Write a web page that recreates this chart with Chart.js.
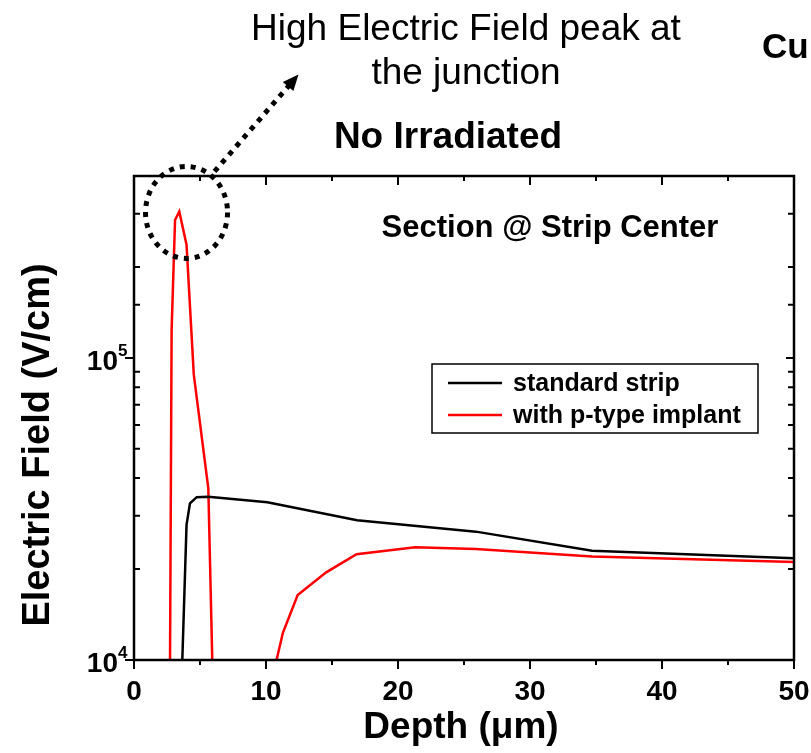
<!DOCTYPE html>
<html>
<head>
<meta charset="utf-8">
<script src="https://cdn.jsdelivr.net/npm/chart.js@4/dist/chart.umd.min.js"></script>
<style>
  html, body { margin: 0; padding: 0; background: #fff; }
  #wrap { width: 811px; height: 753px; }
</style>
</head>
<body>
<div id="wrap"><canvas id="c"></canvas></div>
<script>
// values (depth in um, field in V/cm)
const depthStd = [3.66, 3.98, 4.24, 4.75, 5.63, 10.1, 16.9, 25.9, 34.7, 50];
const fieldStd = [1e4, 2.8e4, 3.3e4, 3.46e4, 3.47e4, 3.33e4, 2.9e4, 2.66e4, 2.3e4, 2.17e4];

// p-type implant curve has a gap between ~6 and ~11 um (field below 1e4)
const depthImp = [2.73, 2.85, 3.11, 3.43, 3.98, 4.53, 5.63, 5.93, 8.0, 10.8, 11.28, 12.4, 14.56, 16.86, 21.3, 25.9, 34.7, 50];
const fieldImp = [1e4, 1.24e5, 2.86e5, 3.05e5, 2.37e5, 8.8e4, 3.7e4, 1e4, null, 1e4, 1.23e4, 1.64e4, 1.95e4, 2.24e4, 2.36e4, 2.33e4, 2.2e4, 2.11e4];

const seriesLabels = ['standard strip', 'with p-type implant'];
const seriesColors = ['#000000', '#ff0000'];

const xMin = 0, xMax = 50, xStep = 5;
const yMin = 1e4, yMax = 4e5;

// where the dotted circle sits (data coords)
const peakMark = { x: 3.98, y: 3.03e5 };

const toPts = (xs, ys) => xs.map((x, i) => ({ x: x, y: ys[i] }));

function txt(ctx, s, x, y, font, align) {
    ctx.save();
    ctx.font = font;
    ctx.textAlign = align || 'left';
    ctx.textBaseline = 'alphabetic';
    ctx.fillStyle = '#000';
    ctx.fillText(s, x, y);
    ctx.restore();
}

const FONT = '"Liberation Sans", Arial, sans-serif';

const decorations = {
    id: 'decorations',
    afterDraw(chart) {
        const ctx = chart.ctx;
        const a = chart.chartArea;
        const xs = chart.scales.x;
        const ys = chart.scales.y;

        ctx.save();
        ctx.strokeStyle = '#000';
        ctx.lineWidth = 2.5;
        ctx.strokeRect(a.left, a.top, a.right - a.left, a.bottom - a.top);

        // x ticks: bottom outward, top inward
        ctx.lineWidth = 2;
        xs.ticks.forEach(t => {
            const px = xs.getPixelForValue(t.value);
            const major = t.value % 10 === 0;
            const len = major ? 9 : 5;
            ctx.beginPath();
            ctx.moveTo(px, a.bottom); ctx.lineTo(px, a.bottom + len);
            ctx.moveTo(px, a.top); ctx.lineTo(px, a.top + len);
            ctx.stroke();
            if (major) {
                txt(ctx, String(t.value), px, 700, 'bold 28px ' + FONT, 'center');
            }
        });

        // y ticks (log)
        ys.ticks.forEach(t => {
            const py = ys.getPixelForValue(t.value);
            if (py < a.top + 1) return;
            const lg = Math.log10(t.value);
            const major = Math.abs(lg - Math.round(lg)) < 1e-6;
            ctx.beginPath();
            if (major) {
                ctx.moveTo(a.left - 9, py); ctx.lineTo(a.left, py);
                ctx.moveTo(a.right, py); ctx.lineTo(a.right - 8, py);
            } else {
                ctx.moveTo(a.left, py); ctx.lineTo(a.left + 6, py);
                ctx.moveTo(a.right, py); ctx.lineTo(a.right - 6, py);
            }
            ctx.stroke();
            if (major) {
                txt(ctx, '10', a.left - 16, py + 12, 'bold 28px ' + FONT, 'right');
                txt(ctx, String(Math.round(lg)), a.left - 16, py - 2, 'bold 17px ' + FONT, 'left');
            }
        });

        // axis titles
        txt(ctx, 'Depth (\u03bcm)', (a.left + a.right) / 2 - 3, 738, 'bold 37px ' + FONT, 'center');
        ctx.save();
        ctx.translate(49, 445);
        ctx.rotate(-Math.PI / 2);
        ctx.font = 'bold 38px ' + FONT;
        ctx.textAlign = 'center';
        ctx.fillStyle = '#000';
        ctx.fillText('Electric Field (V/cm)', 0, 0);
        ctx.restore();

        // titles / notes
        txt(ctx, 'High Electric Field peak at', 466, 40, '37px ' + FONT, 'center');
        txt(ctx, 'the junction', 466, 84, '37px ' + FONT, 'center');
        txt(ctx, 'No Irradiated', 448, 148, 'bold 37px ' + FONT, 'center');
        txt(ctx, 'Cu', 762, 58, 'bold 35px ' + FONT, 'left');
        txt(ctx, 'Section @ Strip Center', 550, 237, 'bold 31px ' + FONT, 'center');

        // legend
        const lx = 432, ly = 364;
        ctx.lineWidth = 1.5;
        ctx.strokeRect(lx, ly, 326, 69);
        chart.data.datasets.forEach((ds, i) => {
            const yy = ly + 19 + i * 32;
            ctx.strokeStyle = ds.borderColor;
            ctx.lineWidth = 2.5;
            ctx.beginPath();
            ctx.moveTo(lx + 16, yy); ctx.lineTo(lx + 70, yy);
            ctx.stroke();
            txt(ctx, ds.label, lx + 81, yy + 8, 'bold 25px ' + FONT, 'left');
        });

        // dotted circle + arrow around the peak
        const cx = xs.getPixelForValue(peakMark.x);
        const cy = ys.getPixelForValue(peakMark.y);
        ctx.strokeStyle = '#000';
        ctx.lineWidth = 5;
        ctx.setLineDash([5, 6]);
        ctx.beginPath();
        ctx.ellipse(cx, cy, 41, 46, 0, 0, Math.PI * 2);
        ctx.stroke();
        const tx = cx + 28, ty = cy - 41;
        const hx = cx + 112, hy = cy - 138;
        ctx.beginPath();
        ctx.moveTo(tx, ty); ctx.lineTo(hx - 6, hy + 7);
        ctx.stroke();
        ctx.setLineDash([]);
        const ang = Math.atan2(hy - ty, hx - tx);
        ctx.fillStyle = '#000';
        ctx.beginPath();
        ctx.moveTo(hx, hy);
        ctx.lineTo(hx - 16 * Math.cos(ang) + 7 * Math.sin(ang), hy - 16 * Math.sin(ang) - 7 * Math.cos(ang));
        ctx.lineTo(hx - 16 * Math.cos(ang) - 7 * Math.sin(ang), hy - 16 * Math.sin(ang) + 7 * Math.cos(ang));
        ctx.closePath();
        ctx.fill();
        ctx.restore();
    }
};

new Chart(document.getElementById('c'), {
    type: 'line',
    data: {
        datasets: [
            {
                label: seriesLabels[0],
                data: toPts(depthStd, fieldStd),
                borderColor: seriesColors[0],
                borderWidth: 2.5,
                pointRadius: 0,
                fill: false,
                tension: 0
            },
            {
                label: seriesLabels[1],
                data: toPts(depthImp, fieldImp),
                borderColor: seriesColors[1],
                borderWidth: 2.5,
                pointRadius: 0,
                fill: false,
                spanGaps: false,
                tension: 0
            }
        ]
    },
    options: {
        responsive: true,
        maintainAspectRatio: false,
        animation: false,
        layout: { padding: { top: 176, right: 17, left: 0, bottom: 0 } },
        plugins: {
            legend: { display: false },
            tooltip: { enabled: false }
        },
        scales: {
            x: {
                type: 'linear',
                min: xMin,
                max: xMax,
                ticks: { stepSize: xStep, display: false },
                grid: { display: false },
                border: { display: false },
                afterFit: s => { s.height = 93; }
            },
            y: {
                type: 'logarithmic',
                min: yMin,
                max: yMax,
                ticks: { display: false },
                grid: { display: false },
                border: { display: false },
                afterFit: s => { s.width = 134; }
            }
        }
    },
    plugins: [decorations]
});
</script>
</body>
</html>
